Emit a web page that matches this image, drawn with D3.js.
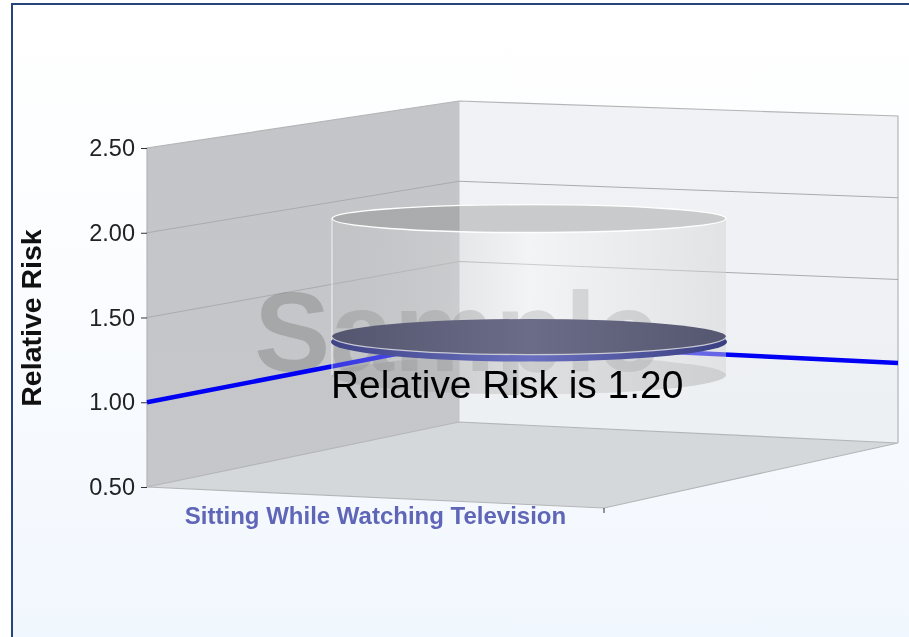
<!DOCTYPE html>
<html>
<head>
<meta charset="utf-8">
<script src="https://cdn.jsdelivr.net/npm/d3@7"></script>
<style>
  html, body { margin: 0; padding: 0; background: #fff; }
  svg { display: block; font-family: "Liberation Sans", Arial, sans-serif; filter: blur(0.4px); }
</style>
</head>
<body>
<div id="viz_div"></div>
<script>
// values
const categories = ["Sitting While Watching Television"];
const yTicks = [0.5, 1.0, 1.5, 2.0, 2.5];
const gridTicks = [1.5, 2.0];
const referenceLine = [1.0, 1.0, 0.99];  // front of side wall, back corner, right end of back wall
const cylinderRange = [1.04, 1.98];      // bottom and top of the translucent cylinder
const discLevel = 1.27;                  // where the disc sits in the cylinder
const relativeRisk = "1.20";

const width = 909, height = 637;

// one y scale per corner of the fake 3d box
const yFront = d3.scaleLinear([0.5, 2.5], [487, 148]);
const yBack = d3.scaleLinear([0.5, 2.5], [422, 101]);
const yRight = d3.scaleLinear([0.5, 2.5], [443, 116]);
const yMiddle = d3.scaleLinear([0.5, 2.5], [465, 132]);
const xFront = 147, xBack = 459, xRight = 898, xFloorEnd = 604, yFloorEnd = 508;
const cx = 529, rx = 197;
const ryAt = d3.scaleLinear([219, 375], [14, 19]);
const xCategory = d3.scaleBand(categories, [xFront, xFloorEnd]);

const svg = d3.select("#viz_div").append("svg")
  .attr("width", width)
  .attr("height", height);

// GRADIENTS
const defs = svg.append("defs");
function addGradient(id, x2, y2, stops) {
  const g = defs.append("linearGradient").attr("id", id)
    .attr("x1", 0).attr("y1", 0).attr("x2", x2).attr("y2", y2);
  stops.forEach(s => g.append("stop")
    .attr("offset", s[0]).attr("stop-color", s[1]).attr("stop-opacity", s[2] === undefined ? 1 : s[2]));
}
addGradient("pageFill", 0, 1, [[0, "#ffffff"], [0.35, "#fcfdff"], [1, "#f1f7fe"]]);
addGradient("backFill", 0, 1, [[0, "#f1f2f5"], [1, "#edf0f3"]]);
addGradient("sideFill", 0, 1, [[0, "#c4c5c8"], [1, "#c5c7ca"]]);
addGradient("cylFill", 1, 0, [
  [0, "#bbbcbe", 0.3], [0.3, "#d2d3d5", 0.38], [0.5, "#f7f7f8", 0.45], [1, "#d2d3d4", 0.48]
]);
addGradient("discTop", 1, 0, [[0, "#54556f"], [0.5, "#6b6c87"], [1, "#55566f"]]);
addGradient("discEdge", 1, 0, [[0, "#3f4486"], [0.5, "#6a70c0"], [1, "#3a3f80"]]);

// PAGE BACKGROUND AND BORDER
svg.append("rect").attr("width", width).attr("height", height).attr("fill", "#fff");
svg.append("rect")
  .attr("x", 12).attr("y", 4)
  .attr("width", width).attr("height", height)
  .attr("fill", "url(#pageFill)")
  .attr("stroke", "#27457a")
  .attr("stroke-width", 2);

// WALLS AND FLOOR
const line = d3.line();
const wallStroke = "#b4b5b7";
svg.append("path")
  .attr("d", line([[xBack, yBack(2.5)], [xRight, yRight(2.5)], [xRight, yRight(0.5)], [xBack, yBack(0.5)]]) + "Z")
  .attr("fill", "url(#backFill)");
svg.append("path")
  .attr("d", line([[xFront, yFront(2.5)], [xBack, yBack(2.5)], [xBack, yBack(0.5)], [xFront, yFront(0.5)]]) + "Z")
  .attr("fill", "url(#sideFill)");
svg.append("path")
  .attr("d", line([[xFront, yFront(0.5)], [xBack, yBack(0.5)], [xRight, yRight(0.5)], [xFloorEnd, yFloorEnd]]) + "Z")
  .attr("fill", "#d5d8da")
  .attr("stroke", wallStroke)
  .attr("stroke-width", 1.2);
svg.append("path")
  .attr("d", line([[xFront, yFront(0.5)], [xFront, yFront(2.5)], [xBack, yBack(2.5)], [xRight, yRight(2.5)], [xRight, yRight(0.5)]]))
  .attr("fill", "none")
  .attr("stroke", wallStroke)
  .attr("stroke-width", 1.2);
svg.append("line")
  .attr("x1", xBack).attr("x2", xBack)
  .attr("y1", yBack(2.5)).attr("y2", yBack(0.5))
  .attr("stroke", "#c4c5c8");

// GRID LINES
svg.append("g").selectAll("path")
  .data(gridTicks)
  .join("path")
  .attr("d", d => line([[xFront, yFront(d)], [xBack, yBack(d)], [xRight, yRight(d)]]))
  .attr("fill", "none")
  .attr("stroke", "#a9abad")
  .attr("stroke-width", 1);

// WATERMARK
svg.append("text")
  .attr("x", 457)
  .attr("y", 371)
  .attr("text-anchor", "middle")
  .attr("font-size", 114)
  .attr("font-weight", "bold")
  .attr("fill", "#7c7c7c")
  .attr("fill-opacity", 0.42)
  .text("Sample");

// CYLINDER BACK PARTS
const yTop = yMiddle(cylinderRange[1]), yBottom = yMiddle(cylinderRange[0]);
svg.append("ellipse")
  .attr("cx", cx).attr("cy", yBottom)
  .attr("rx", rx).attr("ry", ryAt(yBottom))
  .attr("fill", "#777")
  .attr("fill-opacity", 0.3);

// REFERENCE LINE
const refPoints = [[xFront, yFront(referenceLine[0])], [xBack, yBack(referenceLine[1])], [xRight, yRight(referenceLine[2])]];
svg.append("path")
  .attr("d", line(refPoints))
  .attr("fill", "none")
  .attr("stroke", "#0000f5")
  .attr("stroke-width", 4.5);

// CYLINDER SIDE AND TOP
svg.append("path")
  .attr("d", `M${cx - rx},${yTop}A${rx},${ryAt(yTop)} 0 0 0 ${cx + rx},${yTop}L${cx + rx},${yBottom}A${rx},${ryAt(yBottom)} 0 0 1 ${cx - rx},${yBottom}Z`)
  .attr("fill", "url(#cylFill)");
svg.append("line")
  .attr("x1", cx - rx).attr("x2", cx - rx)
  .attr("y1", yTop).attr("y2", yBottom)
  .attr("stroke", "#ffffff")
  .attr("stroke-opacity", 0.8);
svg.append("ellipse")
  .attr("cx", cx).attr("cy", yTop)
  .attr("rx", rx).attr("ry", ryAt(yTop))
  .attr("fill", "#6f6f6f")
  .attr("fill-opacity", 0.3)
  .attr("stroke", "#ffffff")
  .attr("stroke-width", 1.4);

// DISC
const yDisc = yMiddle(discLevel), ryDisc = ryAt(yDisc);
svg.append("ellipse")
  .attr("cx", cx).attr("cy", yDisc + 5)
  .attr("rx", rx + 1).attr("ry", ryDisc + 2)
  .attr("fill", "url(#discEdge)");
svg.append("ellipse")
  .attr("cx", cx).attr("cy", yDisc)
  .attr("rx", rx).attr("ry", ryDisc)
  .attr("fill", "url(#discTop)");
svg.append("path")
  .attr("d", `M${cx - rx},${yDisc}A${rx},${ryDisc} 0 0 0 ${cx + rx},${yDisc}`)
  .attr("fill", "none")
  .attr("stroke", "#c9cad6")
  .attr("stroke-width", 1.3);

// DISC LABEL
svg.append("text")
  .attr("x", 331)
  .attr("y", 398)
  .attr("font-size", 38.9)
  .attr("fill", "#000")
  .text(`Relative Risk is ${relativeRisk}`);

// Y AXIS
const yAxis = svg.append("g")
  .attr("transform", `translate(${xFront},0)`)
  .call(d3.axisLeft(yFront).tickValues(yTicks).tickFormat(d3.format(".2f")).tickSize(6).tickPadding(6));
yAxis.select(".domain").remove();
yAxis.selectAll("line").attr("stroke", "#333");
yAxis.selectAll("text")
  .attr("font-family", "Liberation Sans")
  .attr("font-size", 23.5)
  .attr("fill", "#222");

// Y AXIS TITLE
svg.append("text")
  .attr("transform", "translate(41,318) rotate(-90)")
  .attr("text-anchor", "middle")
  .attr("font-size", 28.5)
  .attr("font-weight", "bold")
  .attr("fill", "#111")
  .text("Relative Risk");

// CATEGORY LABEL
svg.append("g").selectAll("text")
  .data(categories)
  .join("text")
  .attr("x", d => xCategory(d) + xCategory.bandwidth() / 2)
  .attr("y", 524)
  .attr("text-anchor", "middle")
  .attr("font-size", 24)
  .attr("font-weight", "bold")
  .attr("fill", "#5f66b8")
  .text(d => d);
svg.append("line")
  .attr("x1", xFloorEnd).attr("x2", xFloorEnd)
  .attr("y1", yFloorEnd).attr("y2", yFloorEnd + 5)
  .attr("stroke", "#333");
</script>
</body>
</html>
